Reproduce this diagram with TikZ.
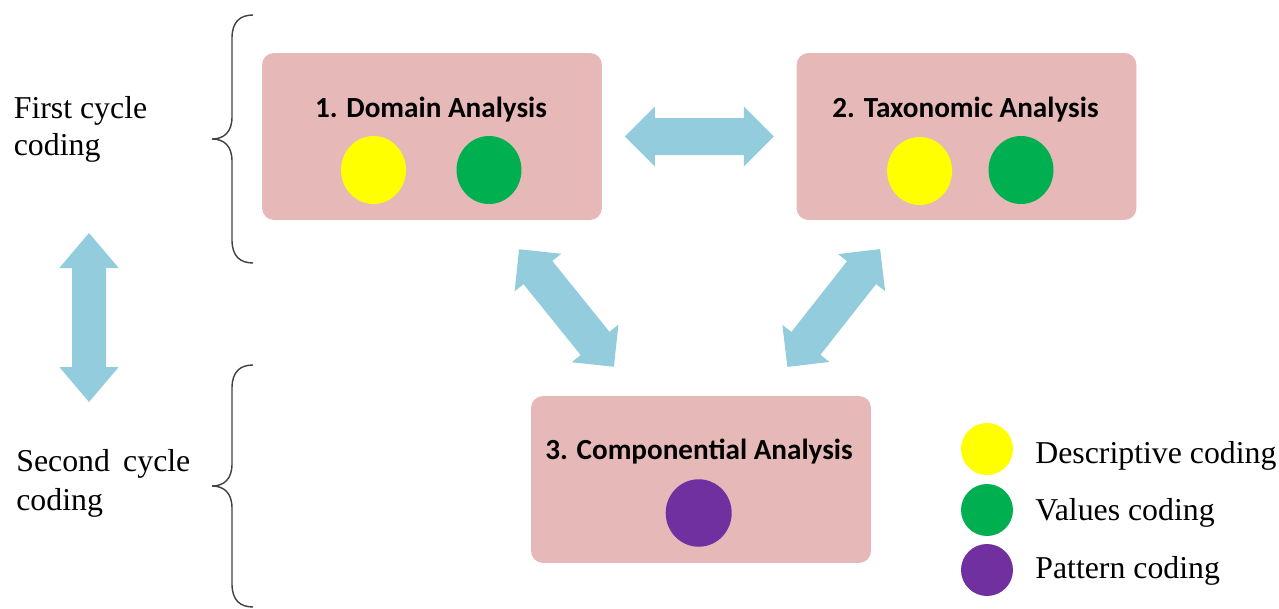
\documentclass[tikz,border=0pt]{standalone}
\usepackage{fontspec}
\setmainfont{Liberation Serif}
\newfontfamily\calfont{Carlito}
\usetikzlibrary{shapes.geometric,calc}
\definecolor{boxpink}{HTML}{E6B9B8}
\definecolor{arrowblue}{HTML}{93CDDD}
\definecolor{cyellow}{HTML}{FFFF00}
\definecolor{cgreen}{HTML}{00B050}
\definecolor{cpurple}{HTML}{7030A0}
\definecolor{bracegray}{HTML}{404040}
\tikzset{
  pics/dblarrow/.style n args={4}{code={
    \fill[arrowblue] (-#1,0) -- (-#1+#4,#2) -- (-#1+#4,#3) -- (#1-#4,#3) -- (#1-#4,#2) -- (#1,0)
      -- (#1-#4,-#2) -- (#1-#4,-#3) -- (-#1+#4,-#3) -- (-#1+#4,-#2) -- cycle;
  }}
}
\begin{document}
\begin{tikzpicture}[x=0.02cm,y=-0.02cm,
  box/.style={rectangle, rounded corners=0.24cm, fill=boxpink, minimum width=6.8cm, minimum height=3.34cm, inner sep=0},
  title/.style={font=\calfont\bfseries\fontsize{16.6}{20}\selectfont, anchor=base, inner sep=0},
  dot/.style={ellipse, minimum width=1.3cm, minimum height=1.36cm, inner sep=0},
  lgdot/.style={circle, minimum size=1.04cm, inner sep=0},
  lbl/.style={font=\fontsize{18.1}{21}\selectfont, anchor=base west, inner sep=0},
  brace/.style={draw=bracegray, line width=0.8pt}
]
\useasboundingbox (0,0) rectangle (1279,609);

% boxes
\node[box] (b1) at (432,136.5) {};
\node[box] (b2) at (966.5,136.5) {};
\node[box] (b3) at (701,479.5) {};

% titles
\node[title] (t1) at (431,117) {1. Domain Analysis};
\node[title] (t2) at (965.5,117) {2. Taxonomic Analysis};
\node[title] (t3) at (699,459) {3. Componential Analysis};

% dots in boxes
\node[dot, fill=cyellow] (d1y) at (373.5,170) {};
\node[dot, fill=cgreen] (d1g) at (489,170) {};
\node[dot, fill=cyellow] (d2y) at (919.6,171) {};
\node[dot, fill=cgreen] (d2g) at (1021,170) {};
\node[dot, fill=cpurple, minimum width=1.32cm, minimum height=1.35cm] (d3p) at (698.7,513) {};

% block arrows
\pic at ($(b1.east)!0.5!(b2.west)$) {dblarrow={74.5}{30}{18.5}{30}};
\pic[rotate=-51.1] at ($(b1.south)!0.5!(b3.north)$) {dblarrow={75.5}{30}{18.5}{30}};
\pic[rotate=51.8] at ($(b2.south)!0.5!(b3.north)$) {dblarrow={75}{30}{18.5}{30}};
\pic[rotate=90] at (89,317.5) {dblarrow={84.5}{29.7}{17}{35}};

% braces
\draw[brace] (253,15) .. controls (240,15) and (232,22) .. (232,38) -- (232,117)
  .. controls (232,132) and (224,139) .. (212,139)
  .. controls (224,139) and (232,146) .. (232,161) -- (232,240)
  .. controls (232,256) and (240,263) .. (253,263);
\draw[brace] (253,365) .. controls (240,365) and (232,372) .. (232,388) -- (232,464)
  .. controls (232,479) and (224,486) .. (212,486)
  .. controls (224,486) and (232,493) .. (232,508) -- (232,584)
  .. controls (232,600) and (240,607) .. (253,607);

% side labels
\node[lbl] (fc1) at (13.5,118) {First cycle};
\node[lbl] (fc2) at (13.5,155) {coding};
\node[lbl] (sc1) at (16,471.5) {\makebox[3.48cm][s]{Second cycle}};
\node[lbl] (sc2) at (16,510) {coding};

% legend
\node[lgdot, fill=cyellow] (ly) at (987,449) {};
\node[lgdot, fill=cgreen] (lg) at (987,510) {};
\node[lgdot, fill=cpurple] (lp) at (987,570) {};
\node[lbl] (lyt) at (1035,463) {Descriptive coding};
\node[lbl] (lgt) at (1035,520) {Values coding};
\node[lbl] (lpt) at (1035,578) {Pattern coding};
\end{tikzpicture}
\end{document}
